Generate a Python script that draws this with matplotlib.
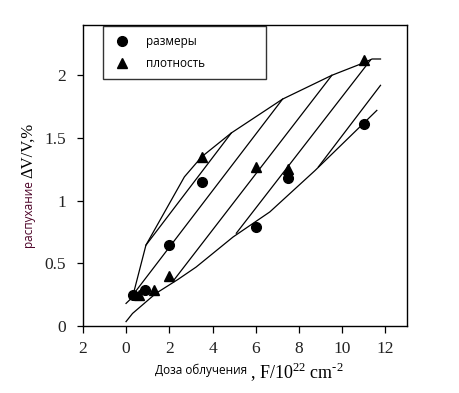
import matplotlib
matplotlib.use("Agg")
import matplotlib.pyplot as plt
from matplotlib.lines import Line2D

plt.rcParams['mathtext.fontset'] = 'custom'
plt.rcParams['mathtext.rm'] = 'Liberation Serif'

# Data points
size_x = [0.3, 0.9, 2.0, 3.5, 6.0, 7.5, 11.0]
size_y = [0.25, 0.29, 0.65, 1.15, 0.79, 1.18, 1.61]
dens_x = [0.6, 1.3, 2.0, 3.5, 6.0, 7.5, 11.0]
dens_y = [0.25, 0.29, 0.40, 1.35, 1.27, 1.25, 2.12]

# Upper envelope
upper_x = [0.0, 0.3, 0.92, 2.7, 3.5, 4.87, 7.24, 9.52, 11.0, 11.38, 11.77]
upper_y = [0.18, 0.23, 0.645, 1.19, 1.35, 1.54, 1.81, 2.0, 2.10, 2.13, 2.13]
# Lower envelope
lower_x = [0.0, 0.3, 1.38, 2.39, 3.24, 4.95, 6.65, 8.74, 11.6]
lower_y = [0.035, 0.10, 0.26, 0.37, 0.47, 0.71, 0.91, 1.24, 1.72]
# Diagonal lines (x0, x1), (y0, y1)
diag_x = [(0.92, 4.87), (0.37, 7.24), (2.23, 9.52), (5.1, 11.3), (8.9, 11.77)]
diag_y = [(0.645, 1.54), (0.26, 1.81), (0.37, 2.0), (0.74, 2.12), (1.27, 1.92)]

xticks = [-2, 0, 2, 4, 6, 8, 10, 12]
xtick_labels = ["2", "0", "2", "4", "6", "8", "10", "12"]
yticks = [0, 0.5, 1, 1.5, 2]
ytick_labels = ["0", "0.5", "1", "1.5", "2"]

fig = plt.figure(figsize=(4.6, 3.93), dpi=100)
ax = fig.add_axes([0.180, 0.1705, 0.705, 0.7655])

lw = 0.9
ax.plot(upper_x, upper_y, color='black', lw=lw)
ax.plot(lower_x, lower_y, color='black', lw=lw)
for dx, dy in zip(diag_x, diag_y):
    ax.plot(dx, dy, color='black', lw=lw)

ax.plot(size_x, size_y, 'o', color='black', ms=7, zorder=3)
ax.plot(dens_x, dens_y, '^', color='black', ms=7, zorder=3)

ax.set_xlim(-2, 13)
ax.set_ylim(0, 2.4)
ax.set_xticks(xticks)
ax.set_xticklabels(xtick_labels, fontfamily='Liberation Serif', fontsize=12.5, color='#222222')
ax.set_yticks(yticks)
ax.set_yticklabels(ytick_labels, fontfamily='Liberation Serif', fontsize=12.5, color='#222222')
ax.tick_params(axis='x', direction='out', length=5, width=0.9, pad=6)
ax.tick_params(axis='y', direction='out', length=4, width=0.9, pad=8)
for s in ax.spines.values():
    s.set_linewidth(1.0)

handles = [Line2D([], [], marker='o', color='black', ls='', ms=7),
           Line2D([], [], marker='^', color='black', ls='', ms=7)]
leg = ax.legend(handles, ['размеры', 'плотность'], loc='upper left',
                bbox_to_anchor=(0.062, 0.0, 0.503, 0.997), mode='expand',
                borderaxespad=0, frameon=True, fancybox=False,
                prop={'family': 'Open Sans', 'size': 8.5}, handletextpad=1.1,
                labelspacing=0.8, borderpad=0.75, handlelength=1.8)
leg.get_frame().set_edgecolor('black')
leg.get_frame().set_linewidth(1.0)

# Axis labels
fig.text(0.061, 1 - 214 / 393, 'распухание', rotation=90, ha='center', va='center',
         fontfamily='Open Sans', fontsize=8.5, color='#4b0026')
fig.text(0.061, 1 - 150 / 393, 'ΔV/V,%', rotation=90, ha='center', va='center',
         fontfamily='Liberation Serif', fontsize=12, color='black')
fig.text(155 / 460, 1 - 370 / 393, 'Доза облучения', ha='left', va='center',
         fontfamily='Open Sans', fontsize=8.5)
unit = fig.text(250 / 460, 1 - 372 / 393, ', F/10$^{22}$ cm$^{\u20102}$', ha='left', va='center',
                fontfamily='Liberation Serif', fontsize=13)
try:
    fig.canvas.draw()
except Exception:
    unit.set_text(r', F/10$^{22}$ cm$^{-2}$')

fig.savefig('out.png', dpi=100)
